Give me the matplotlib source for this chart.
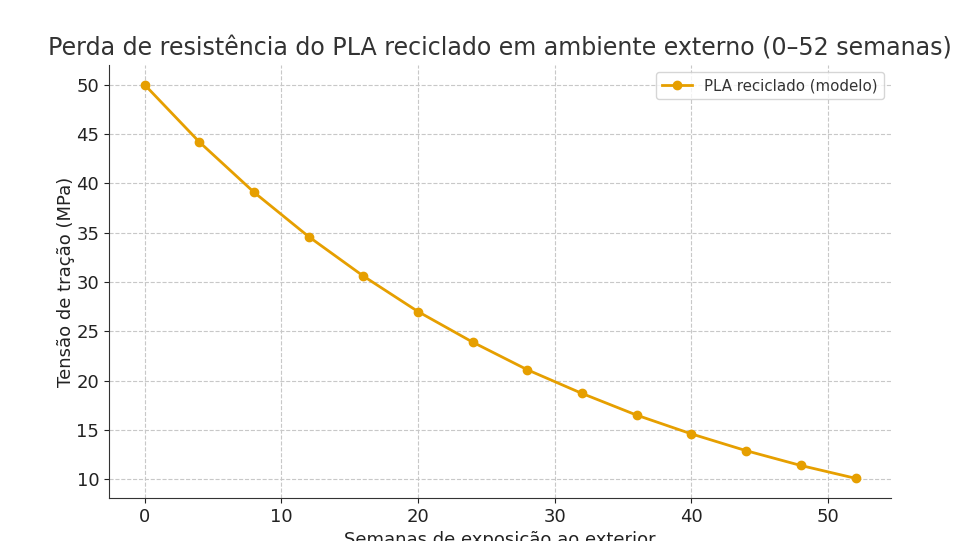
import matplotlib
matplotlib.use("Agg")
import matplotlib.pyplot as plt

semanas = [0, 4, 8, 12, 16, 20, 24, 28, 32, 36, 40, 44, 48, 52]
tensao = [50.0, 44.2, 39.1, 34.6, 30.6, 27.0, 23.9, 21.1, 18.7, 16.5, 14.6, 12.9, 11.4, 10.1]
xticks = [0, 10, 20, 30, 40, 50]
yticks = [10, 15, 20, 25, 30, 35, 40, 45, 50]

plt.rcParams['font.family'] = ['DejaVu Sans']
fig = plt.figure(figsize=(9.57, 5.41), dpi=100)
ax = fig.add_axes([0.1139, 0.0795, 0.8172, 0.8004])

ax.plot(semanas, tensao, color='#E69F00', linewidth=2, marker='o', markersize=6,
        label='PLA reciclado (modelo)')
ax.set_xticks(xticks)
ax.set_yticks(yticks)
ax.tick_params(labelsize=13, colors='#222222')
ax.grid(True, linestyle='--', color='#c8c8c8', linewidth=0.8)
for s in ['top', 'right']:
    ax.spines[s].set_visible(False)
for s in ['left', 'bottom']:
    ax.spines[s].set_color('#333333')
ax.set_title('Perda de resistência do PLA reciclado em ambiente externo (0–52 semanas)',
             fontsize=17.1, color='#333333', pad=7)
ax.set_xlabel('Semanas de exposição ao exterior', fontsize=13, color='#222222')
ax.set_ylabel('Tensão de tração (MPa)', fontsize=13, color='#222222', labelpad=1)
leg = ax.legend(loc='upper right', fontsize=10.8)
for t in leg.get_texts():
    t.set_color('#333333')
fig.savefig('out.png', dpi=100)
